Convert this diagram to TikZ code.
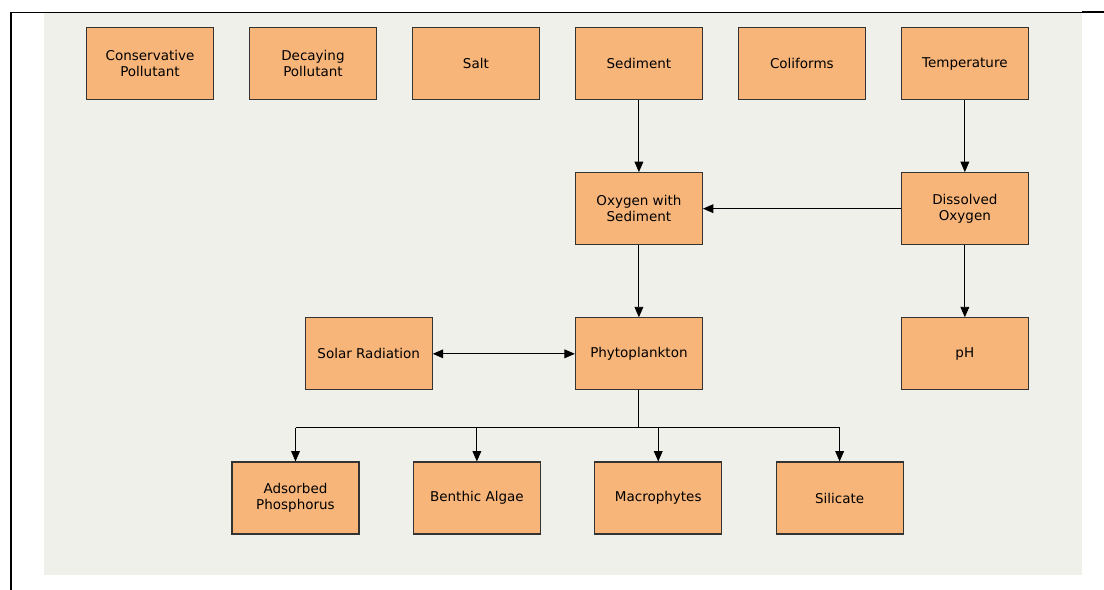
\documentclass[tikz,border=0pt]{standalone}
\usepackage{fontspec}
\setmainfont{DejaVu Sans}
\usepackage{xcolor}
\usetikzlibrary{arrows.meta,positioning}
\definecolor{boxfill}{RGB}{247,181,122}
\definecolor{panel}{RGB}{240,240,235}

\begin{document}
\begin{tikzpicture}[
  x=0.025cm, y=-0.025cm,
  font=\fontsize{9.6}{11.5}\selectfont,
  var/.style={
    rectangle, draw=black!80, line width=0.8pt,
    fill=boxfill, minimum width=3.175cm,
    minimum height=1.8cm, align=center, inner sep=2pt
  },
  arrow/.style={-{Triangle[length=0.26cm,width=0.22cm]}, line width=0.6pt},
  node distance=1.8cm and 0.87cm
]
% frame and panel
\useasboundingbox (0,0) rectangle (1104,590);
\fill[panel] (44,12) rectangle (1082,575);
\draw[line width=0.7pt] (10,12) -- (1082,12);
\draw[line width=1.4pt] (1082,12) -- (1104,12);
\draw[line width=1.4pt] (11,12) -- (11,590);
% top row
\node[var] (cons) at (150,63.5) {Conservative\\Pollutant};
\node[var, right=of cons]  (decay) {Decaying\\Pollutant};
\node[var, right=of decay] (salt)  {Salt};
\node[var, right=of salt]  (sed)   {Sediment};
\node[var, right=of sed]   (coli)  {Coliforms};
\node[var, right=of coli]  (temp)  {Temperature};
% oxygen
\node[var, below=of sed]  (oxsed) {Oxygen with\\Sediment};
\node[var, below=of temp] (dox)   {Dissolved\\Oxygen};
% middle row
\node[var, below=of oxsed] (phyto) {Phytoplankton};
\node[var, below=of dox]   (ph)    {pH};
\node[var, left=3.55cm of phyto] (solar) {Solar Radiation};
% bottom row
\node[var] (adsorb) at (295.5,498) {Adsorbed\\Phosphorus};
\node[var, right=1.33cm of adsorb] (benth) {Benthic Algae};
\node[var, right=1.33cm of benth]  (macro) {Macrophytes};
\node[var, right=1.33cm of macro]  (silic) {Silicate};

% arrows
\draw[arrow] (sed) -- (oxsed);
\draw[arrow] (temp) -- (dox);
\draw[arrow] (dox) -- (oxsed);
\draw[arrow] (oxsed) -- (phyto);
\draw[arrow] (dox) -- (ph);
\draw[arrow, {Triangle[length=0.26cm,width=0.22cm]}-{Triangle[length=0.26cm,width=0.22cm]}] (solar) -- (phyto);
% split to bottom row
\coordinate[below=0.93cm of phyto.south] (split);
\draw[line width=0.6pt] (phyto.south) -- (split);
\draw[line width=0.6pt] (split -| adsorb.north) -- (split -| silic.north);
\foreach \n in {adsorb,benth,macro,silic}
  \draw[arrow] (split -| \n.north) -- (\n.north);
\end{tikzpicture}
\end{document}
